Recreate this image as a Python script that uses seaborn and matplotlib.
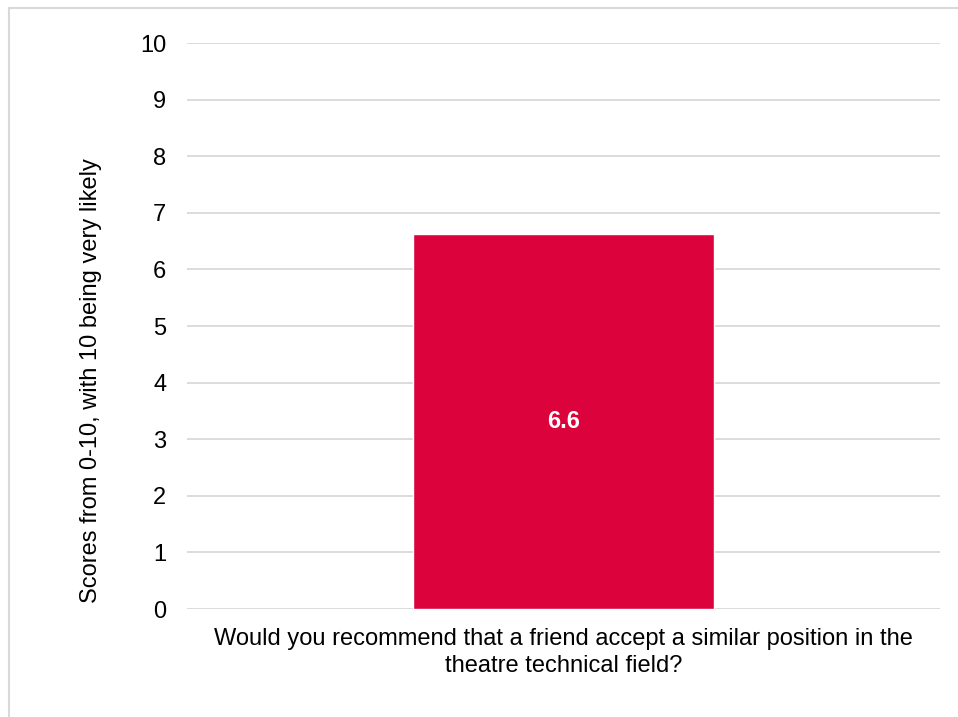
import matplotlib
matplotlib.use("Agg")
import matplotlib.pyplot as plt
from matplotlib.lines import Line2D
import seaborn as sns
import pandas as pd

# Survey result
questions = ["Would you recommend that a friend accept a similar position in the\ntheatre technical field?"]
scores = [6.63]
y_ticks = list(range(0, 11))
y_title = "Scores from 0-10, with 10 being very likely"

BAR_COLOR = "#DC033C"
GRID_COLOR = "#D9D9D9"
TEXT_COLOR = "#000000"
FS = 17

sns.set_theme(style="white")
plt.rcParams["font.family"] = ["Liberation Sans", "DejaVu Sans"]

W, H = 958, 717
fig = plt.figure(figsize=(W / 100, H / 100), dpi=100)
ax = fig.add_axes([187 / W, 1 - 609 / H, (940 - 187) / W, (609 - 43) / H])

df = pd.DataFrame({"question": questions, "score": scores})
sns.barplot(data=df, x="question", y="score", color=BAR_COLOR, width=0.4,
            saturation=1, ax=ax, zorder=3)
ax.set_xlim(-0.5, 0.5)
ax.set_ylim(0, 10)
ax.set_yticks(y_ticks)
ax.set_yticklabels([str(t) for t in y_ticks], fontsize=FS, color=TEXT_COLOR)
ax.yaxis.grid(True, color=GRID_COLOR, linewidth=1.3, zorder=0)
ax.set_axisbelow(True)
for s in ax.spines.values():
    s.set_visible(False)
ax.tick_params(axis="y", length=0, pad=15)
ax.tick_params(axis="x", length=0, pad=14)
ax.set_xticks([0])
ax.set_xticklabels(questions, fontsize=FS, color=TEXT_COLOR, linespacing=1.28)
ax.set_xlabel("")
ax.set_ylabel("")

for p, v in zip(ax.patches, scores):
    ax.text(p.get_x() + p.get_width() / 2, v / 2, f"{v:.1f}", ha="center", va="center",
            color="white", fontsize=FS, fontweight="bold", zorder=4)

fig.text(91 / W, 1 - 381 / H, y_title, rotation=90, ha="center", va="center",
         fontsize=FS, color=TEXT_COLOR)

# chart frame
fig.add_artist(Line2D([8.5 / W, 1], [1 - 7.5 / H, 1 - 7.5 / H], color=GRID_COLOR,
                      linewidth=1.5, transform=fig.transFigure))
fig.add_artist(Line2D([8.5 / W, 8.5 / W], [0, 1 - 7.5 / H], color=GRID_COLOR,
                      linewidth=1.5, transform=fig.transFigure))

fig.savefig("out.png", dpi=100, facecolor="white")
